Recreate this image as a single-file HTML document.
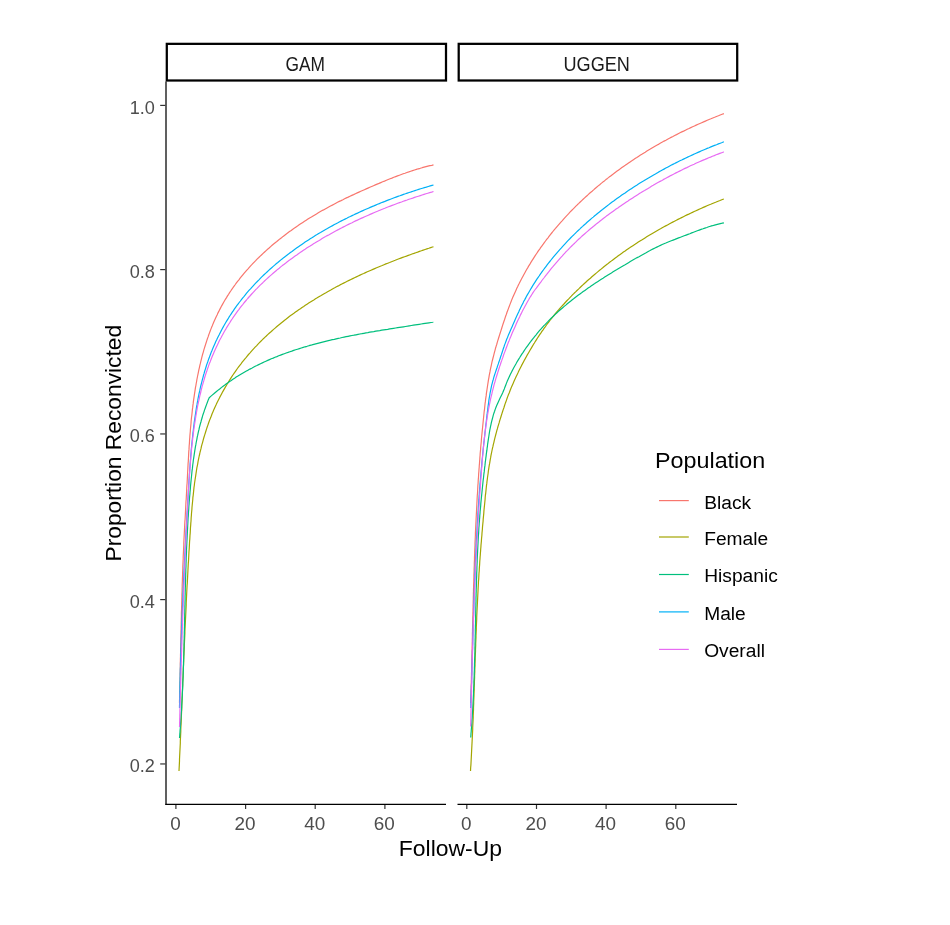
<!DOCTYPE html>
<html lang="en"><head><meta charset="utf-8"><title>Proportion Reconvicted by Follow-Up</title>
<style>html,body{margin:0;padding:0;background:#fff}svg{display:block}text{font-family:"Liberation Sans",sans-serif}.t{font-size:19.1px;fill:#4d4d4d}.s{font-size:19.5px;fill:#1a1a1a}.l{font-size:19px;fill:#000}.h{font-size:22.5px;fill:#000}</style></head><body>
<svg width="950" height="925" viewBox="0 0 950 925">
<rect width="950" height="925" fill="#fff"/>
<polyline fill="none" stroke="#F8766D" stroke-width="1.2" stroke-linejoin="round" points="179.5,703.0 179.5,701.0 179.6,699.0 179.6,696.9 179.7,694.9 179.7,692.9 179.8,690.9 179.8,688.9 179.9,686.9 179.9,684.9 179.9,682.8 180.0,680.8 180.0,678.8 180.1,676.8 180.1,674.8 180.1,672.8 180.2,670.8 180.2,668.8 180.3,666.8 180.3,664.8 180.3,662.7 180.4,660.7 180.4,658.7 180.5,656.7 180.5,654.7 180.6,652.7 180.6,650.7 180.6,648.7 180.7,646.7 180.7,644.7 180.8,642.7 180.8,640.7 180.8,638.7 180.9,636.7 180.9,634.7 181.0,632.7 181.0,630.7 181.1,628.7 181.1,626.7 181.2,624.7 181.2,622.7 181.3,620.7 181.3,618.7 181.4,616.7 181.4,614.7 181.4,612.7 181.5,610.7 181.6,608.7 181.6,606.7 181.7,604.7 181.7,602.8 181.8,600.8 181.8,598.8 181.9,596.8 181.9,594.8 182.0,592.8 182.1,590.8 182.1,588.8 182.2,586.8 182.2,584.8 182.3,582.8 182.4,580.8 182.4,578.8 182.5,576.9 182.6,574.9 182.6,572.9 182.7,570.9 182.8,568.9 182.8,566.9 182.9,564.9 183.0,562.9 183.1,560.9 183.2,558.9 183.2,556.9 183.3,555.0 183.4,553.0 183.5,551.0 183.6,549.0 183.7,547.0 183.8,545.0 183.8,543.0 183.9,541.0 184.0,539.0 184.1,537.1 184.2,535.1 184.3,533.1 184.4,531.1 184.5,529.1 184.6,527.1 184.7,525.1 184.8,523.1 184.9,521.1 185.1,519.2 185.2,517.2 185.3,515.2 185.4,513.2 185.5,511.2 185.6,509.2 185.7,507.2 185.8,505.2 185.9,503.2 186.0,501.3 186.2,499.3 186.3,497.3 186.4,495.3 186.5,493.3 186.6,491.3 186.7,489.3 186.8,487.3 186.9,485.3 187.1,483.3 187.2,481.3 187.3,479.4 187.4,477.4 187.5,475.4 187.6,473.4 187.7,471.4 187.8,469.4 187.9,467.4 188.0,465.4 188.1,463.4 188.3,461.4 188.4,459.4 188.5,457.4 188.6,455.4 188.7,453.4 188.8,451.4 189.0,449.4 189.1,447.5 189.2,445.5 189.4,443.5 189.5,441.5 189.6,439.5 189.8,437.5 189.9,435.5 190.1,433.5 190.3,431.5 190.4,429.5 190.6,427.5 190.8,425.5 191.0,423.5 191.1,421.5 191.3,419.5 191.5,417.5 191.8,415.5 192.0,413.5 192.2,411.5 192.4,409.4 192.7,407.4 192.9,405.4 193.2,403.4 193.4,401.4 193.7,399.4 194.0,397.4 194.3,395.4 194.6,393.4 194.9,391.4 195.2,389.4 195.5,387.4 195.9,385.5 196.2,383.5 196.6,381.5 196.9,379.5 197.3,377.5 197.7,375.5 198.1,373.6 198.5,371.6 198.9,369.6 199.4,367.6 199.8,365.7 200.3,363.7 200.7,361.8 201.2,359.8 201.7,357.9 202.2,355.9 202.7,354.0 203.3,352.1 203.8,350.2 204.4,348.2 205.0,346.3 205.6,344.4 206.2,342.5 206.8,340.6 207.4,338.7 208.1,336.9 208.7,335.0 209.4,333.1 210.1,331.3 210.8,329.4 211.5,327.6 212.3,325.7 213.0,323.9 213.8,322.1 214.6,320.3 215.4,318.5 216.2,316.7 217.1,314.9 217.9,313.1 218.8,311.4 219.7,309.6 220.6,307.9 221.5,306.1 222.5,304.4 223.4,302.7 224.4,301.0 225.4,299.3 226.5,297.6 227.5,295.9 228.6,294.3 229.6,292.6 230.7,291.0 231.8,289.3 233.0,287.7 234.1,286.1 235.3,284.5 236.4,282.9 237.6,281.3 238.9,279.8 240.1,278.2 241.3,276.7 242.6,275.1 243.8,273.6 245.1,272.1 246.4,270.6 247.8,269.1 249.1,267.6 250.4,266.1 251.8,264.7 253.2,263.2 254.5,261.8 255.9,260.4 257.3,258.9 258.8,257.5 260.2,256.1 261.7,254.7 263.1,253.4 264.6,252.0 266.1,250.6 267.6,249.3 269.1,248.0 270.6,246.6 272.1,245.3 273.6,244.0 275.2,242.7 276.8,241.5 278.3,240.2 279.9,238.9 281.5,237.7 283.1,236.4 284.7,235.2 286.3,234.0 287.9,232.8 289.5,231.6 291.2,230.4 292.8,229.2 294.5,228.1 296.1,226.9 297.8,225.8 299.5,224.6 301.1,223.5 302.8,222.4 304.5,221.3 306.2,220.2 307.9,219.1 309.6,218.0 311.4,217.0 313.1,215.9 314.8,214.9 316.5,213.9 318.3,212.8 320.0,211.8 321.7,210.8 323.5,209.9 325.2,208.9 327.0,207.9 328.7,207.0 330.5,206.0 332.3,205.1 334.0,204.2 335.8,203.2 337.5,202.3 339.3,201.4 341.1,200.6 342.9,199.7 344.6,198.8 346.4,197.9 348.2,197.1 350.0,196.2 351.8,195.4 353.6,194.6 355.4,193.7 357.2,192.9 359.0,192.1 360.8,191.3 362.6,190.5 364.4,189.7 366.2,188.9 368.0,188.1 369.8,187.3 371.7,186.5 373.5,185.7 375.3,184.9 377.2,184.1 379.0,183.4 380.8,182.6 382.7,181.8 384.5,181.1 386.4,180.3 388.2,179.5 390.1,178.8 391.9,178.1 393.8,177.3 395.7,176.6 397.5,175.9 399.4,175.2 401.3,174.5 403.2,173.8 405.0,173.2 406.9,172.5 408.8,171.9 410.7,171.2 412.6,170.6 414.5,170.0 416.4,169.4 418.3,168.8 420.2,168.3 422.2,167.7 424.1,167.2 426.0,166.7 427.9,166.2 429.9,165.7 431.8,165.3 433.5,164.9"/>
<polyline fill="none" stroke="#A3A500" stroke-width="1.2" stroke-linejoin="round" points="179.0,771.0 179.1,769.0 179.2,767.1 179.3,765.1 179.4,763.1 179.5,761.1 179.5,759.2 179.6,757.2 179.7,755.2 179.8,753.2 179.9,751.3 180.0,749.3 180.1,747.3 180.2,745.3 180.3,743.3 180.3,741.3 180.4,739.4 180.5,737.4 180.6,735.4 180.7,733.4 180.8,731.4 180.8,729.4 180.9,727.4 181.0,725.4 181.1,723.5 181.2,721.5 181.3,719.5 181.3,717.5 181.4,715.5 181.5,713.5 181.6,711.5 181.7,709.5 181.8,707.5 181.8,705.5 181.9,703.5 182.0,701.5 182.1,699.5 182.2,697.5 182.3,695.5 182.3,693.5 182.4,691.5 182.5,689.5 182.6,687.5 182.7,685.5 182.7,683.5 182.8,681.5 182.9,679.5 183.0,677.5 183.1,675.5 183.2,673.5 183.2,671.5 183.3,669.5 183.4,667.5 183.5,665.5 183.6,663.5 183.7,661.5 183.7,659.4 183.8,657.4 183.9,655.4 184.0,653.4 184.1,651.4 184.2,649.4 184.3,647.4 184.3,645.4 184.4,643.4 184.5,641.4 184.6,639.4 184.7,637.4 184.8,635.4 184.9,633.3 184.9,631.3 185.0,629.3 185.1,627.3 185.2,625.3 185.3,623.3 185.4,621.3 185.5,619.3 185.6,617.3 185.7,615.3 185.8,613.3 185.9,611.2 186.0,609.2 186.1,607.2 186.2,605.2 186.2,603.2 186.3,601.2 186.4,599.2 186.5,597.2 186.6,595.2 186.7,593.2 186.8,591.2 186.9,589.2 187.0,587.2 187.1,585.1 187.3,583.1 187.4,581.1 187.5,579.1 187.6,577.1 187.7,575.1 187.8,573.1 187.9,571.1 188.0,569.1 188.1,567.1 188.2,565.1 188.3,563.1 188.5,561.1 188.6,559.1 188.7,557.1 188.8,555.1 188.9,553.1 189.0,551.1 189.2,549.1 189.3,547.1 189.4,545.1 189.5,543.1 189.6,541.1 189.8,539.1 189.9,537.1 190.0,535.1 190.2,533.1 190.3,531.1 190.4,529.1 190.5,527.1 190.7,525.1 190.8,523.1 191.0,521.2 191.1,519.2 191.2,517.2 191.4,515.2 191.5,513.2 191.7,511.2 191.9,509.2 192.0,507.2 192.2,505.3 192.4,503.3 192.6,501.3 192.8,499.3 192.9,497.3 193.2,495.3 193.4,493.4 193.6,491.4 193.8,489.4 194.0,487.4 194.3,485.5 194.5,483.5 194.8,481.5 195.1,479.5 195.4,477.6 195.7,475.6 196.0,473.6 196.3,471.7 196.6,469.7 196.9,467.7 197.3,465.8 197.7,463.8 198.0,461.8 198.4,459.9 198.8,457.9 199.2,456.0 199.7,454.0 200.1,452.0 200.6,450.1 201.1,448.2 201.5,446.2 202.0,444.3 202.6,442.3 203.1,440.4 203.6,438.5 204.2,436.5 204.8,434.6 205.4,432.7 206.0,430.8 206.6,428.9 207.2,427.0 207.9,425.1 208.5,423.2 209.2,421.3 209.9,419.4 210.7,417.6 211.4,415.7 212.1,413.8 212.9,412.0 213.7,410.1 214.5,408.3 215.3,406.5 216.2,404.6 217.0,402.8 217.9,401.0 218.8,399.2 219.7,397.4 220.6,395.7 221.6,393.9 222.5,392.1 223.5,390.4 224.5,388.6 225.5,386.9 226.5,385.2 227.5,383.5 228.6,381.7 229.6,380.1 230.7,378.4 231.8,376.7 232.9,375.0 234.0,373.4 235.1,371.8 236.3,370.1 237.4,368.5 238.6,366.9 239.8,365.3 241.0,363.8 242.2,362.2 243.5,360.6 244.7,359.1 246.0,357.6 247.2,356.1 248.5,354.5 249.8,353.1 251.1,351.6 252.4,350.1 253.8,348.6 255.1,347.2 256.5,345.8 257.8,344.3 259.2,342.9 260.6,341.5 262.0,340.1 263.4,338.7 264.8,337.4 266.3,336.0 267.7,334.6 269.2,333.3 270.7,332.0 272.1,330.7 273.6,329.4 275.1,328.1 276.6,326.8 278.1,325.5 279.7,324.2 281.2,323.0 282.8,321.7 284.3,320.5 285.9,319.3 287.5,318.0 289.0,316.8 290.6,315.6 292.2,314.5 293.9,313.3 295.5,312.1 297.1,310.9 298.7,309.8 300.4,308.7 302.0,307.5 303.7,306.4 305.3,305.3 307.0,304.2 308.7,303.1 310.4,302.0 312.1,300.9 313.8,299.9 315.5,298.8 317.2,297.8 318.9,296.7 320.7,295.7 322.4,294.7 324.1,293.7 325.9,292.7 327.6,291.7 329.4,290.7 331.2,289.7 332.9,288.7 334.7,287.8 336.5,286.8 338.3,285.9 340.0,284.9 341.8,284.0 343.6,283.1 345.4,282.2 347.2,281.3 349.1,280.4 350.9,279.5 352.7,278.6 354.5,277.7 356.3,276.9 358.2,276.0 360.0,275.1 361.8,274.3 363.7,273.5 365.5,272.6 367.3,271.8 369.2,271.0 371.0,270.2 372.9,269.4 374.7,268.6 376.6,267.8 378.5,267.0 380.3,266.2 382.2,265.5 384.0,264.7 385.9,263.9 387.8,263.2 389.6,262.5 391.5,261.7 393.4,261.0 395.2,260.3 397.1,259.5 399.0,258.8 400.8,258.1 402.7,257.4 404.6,256.7 406.4,256.1 408.3,255.4 410.2,254.7 412.0,254.0 413.9,253.4 415.8,252.7 417.6,252.1 419.5,251.4 421.4,250.8 423.2,250.1 425.1,249.5 426.9,248.9 428.8,248.3 430.7,247.6 432.5,247.0 433.5,246.7"/>
<polyline fill="none" stroke="#00BF7D" stroke-width="1.2" stroke-linejoin="round" points="179.5,738.0 179.7,736.0 179.8,734.1 180.0,732.1 180.1,730.1 180.3,728.2 180.4,726.2 180.6,724.2 180.7,722.3 180.8,720.3 181.0,718.3 181.1,716.3 181.2,714.4 181.3,712.4 181.5,710.4 181.6,708.4 181.7,706.4 181.8,704.4 181.9,702.5 182.0,700.5 182.1,698.5 182.2,696.5 182.3,694.5 182.4,692.5 182.5,690.5 182.6,688.5 182.7,686.5 182.8,684.5 182.8,682.6 182.9,680.6 183.0,678.6 183.1,676.6 183.1,674.6 183.2,672.6 183.3,670.6 183.3,668.6 183.4,666.6 183.5,664.6 183.5,662.6 183.6,660.6 183.7,658.5 183.7,656.5 183.8,654.5 183.8,652.5 183.9,650.5 183.9,648.5 184.0,646.5 184.0,644.5 184.1,642.5 184.1,640.5 184.2,638.5 184.2,636.5 184.3,634.5 184.3,632.4 184.4,630.4 184.4,628.4 184.5,626.4 184.5,624.4 184.6,622.4 184.6,620.4 184.6,618.4 184.7,616.3 184.7,614.3 184.8,612.3 184.8,610.3 184.9,608.3 184.9,606.3 185.0,604.3 185.0,602.3 185.1,600.2 185.1,598.2 185.1,596.2 185.2,594.2 185.2,592.2 185.3,590.2 185.3,588.2 185.4,586.1 185.4,584.1 185.5,582.1 185.6,580.1 185.6,578.1 185.7,576.1 185.7,574.1 185.8,572.1 185.8,570.0 185.9,568.0 186.0,566.0 186.0,564.0 186.1,562.0 186.2,560.0 186.2,558.0 186.3,556.0 186.4,554.0 186.5,552.0 186.5,549.9 186.6,547.9 186.7,545.9 186.8,543.9 186.9,541.9 187.0,539.9 187.1,537.9 187.2,535.9 187.3,533.9 187.4,531.9 187.5,529.9 187.6,527.9 187.7,525.9 187.8,523.9 187.9,521.9 188.0,519.9 188.1,517.9 188.3,515.9 188.4,513.9 188.5,511.9 188.7,510.0 188.8,508.0 188.9,506.0 189.1,504.0 189.2,502.0 189.4,500.0 189.5,498.0 189.7,496.0 189.9,494.1 190.0,492.1 190.2,490.1 190.4,488.1 190.5,486.1 190.7,484.2 190.9,482.2 191.1,480.2 191.3,478.2 191.5,476.3 191.7,474.3 191.9,472.3 192.1,470.3 192.4,468.4 192.6,466.4 192.8,464.5 193.1,462.5 193.3,460.5 193.6,458.6 193.9,456.6 194.2,454.7 194.5,452.7 194.8,450.7 195.1,448.8 195.4,446.8 195.8,444.9 196.1,443.0 196.5,441.0 196.9,439.1 197.2,437.1 197.7,435.2 198.1,433.2 198.5,431.3 199.0,429.4 199.4,427.4 199.9,425.5 200.4,423.6 201.0,421.7 201.5,419.7 202.1,417.8 202.6,415.9 203.2,414.0 203.9,412.1 204.5,410.1 205.2,408.2 205.9,406.3 206.6,404.4 207.3,402.5 208.0,400.6 208.8,398.7 209.2,397.8 210.7,396.4 212.2,395.1 213.8,393.8 215.3,392.5 216.8,391.2 218.4,389.9 220.0,388.7 221.6,387.4 223.1,386.2 224.8,385.0 226.4,383.8 228.0,382.7 229.6,381.5 231.3,380.4 232.9,379.3 234.6,378.2 236.2,377.1 237.9,376.1 239.6,375.0 241.3,374.0 243.0,373.0 244.7,372.0 246.4,371.0 248.2,370.1 249.9,369.1 251.7,368.2 253.4,367.3 255.2,366.3 256.9,365.5 258.7,364.6 260.5,363.7 262.3,362.9 264.1,362.0 265.9,361.2 267.7,360.4 269.5,359.6 271.3,358.8 273.2,358.1 275.0,357.3 276.9,356.6 278.7,355.8 280.6,355.1 282.4,354.4 284.3,353.7 286.2,353.0 288.0,352.4 289.9,351.7 291.8,351.1 293.7,350.4 295.6,349.8 297.5,349.2 299.4,348.6 301.3,348.0 303.2,347.4 305.1,346.8 307.0,346.3 309.0,345.7 310.9,345.2 312.8,344.6 314.8,344.1 316.7,343.6 318.7,343.1 320.6,342.6 322.5,342.1 324.5,341.6 326.4,341.1 328.4,340.6 330.4,340.2 332.3,339.7 334.3,339.3 336.2,338.8 338.2,338.4 340.2,338.0 342.1,337.5 344.1,337.1 346.1,336.7 348.1,336.3 350.0,335.9 352.0,335.5 354.0,335.2 356.0,334.8 358.0,334.4 359.9,334.0 361.9,333.7 363.9,333.3 365.9,332.9 367.9,332.6 369.8,332.2 371.8,331.9 373.8,331.6 375.8,331.2 377.8,330.9 379.8,330.6 381.7,330.2 383.7,329.9 385.7,329.6 387.7,329.3 389.7,328.9 391.7,328.6 393.6,328.3 395.6,328.0 397.6,327.7 399.6,327.4 401.5,327.1 403.5,326.8 405.5,326.5 407.5,326.2 409.4,325.8 411.4,325.5 413.4,325.2 415.3,324.9 417.3,324.6 419.3,324.3 421.2,324.0 423.2,323.7 425.1,323.4 427.1,323.1 429.0,322.8 431.0,322.5 432.9,322.2 433.3,322.1"/>
<polyline fill="none" stroke="#00B0F6" stroke-width="1.2" stroke-linejoin="round" points="179.5,708.0 179.5,706.0 179.6,704.0 179.6,702.0 179.6,700.0 179.7,698.0 179.7,696.0 179.8,694.0 179.8,692.0 179.9,690.0 179.9,688.0 179.9,686.0 180.0,684.0 180.0,682.0 180.1,680.0 180.1,678.0 180.2,676.0 180.2,674.0 180.3,672.0 180.3,670.0 180.4,668.0 180.5,666.0 180.5,664.0 180.6,662.0 180.6,660.0 180.7,658.0 180.7,656.0 180.8,654.0 180.9,652.0 180.9,650.0 181.0,648.0 181.1,646.0 181.1,644.0 181.2,642.0 181.3,640.0 181.3,638.0 181.4,636.0 181.5,634.0 181.5,632.0 181.6,630.0 181.7,628.0 181.7,626.0 181.8,624.0 181.9,622.0 182.0,620.0 182.0,618.0 182.1,616.0 182.2,614.0 182.3,612.0 182.4,610.0 182.4,608.0 182.5,606.0 182.6,604.0 182.7,602.0 182.8,600.0 182.9,598.0 182.9,596.0 183.0,594.0 183.1,592.0 183.2,590.0 183.3,588.0 183.4,586.0 183.5,584.0 183.6,582.0 183.6,580.0 183.7,578.0 183.8,576.0 183.9,574.0 184.0,572.0 184.1,570.0 184.2,568.0 184.3,566.1 184.4,564.1 184.5,562.1 184.6,560.1 184.7,558.1 184.8,556.1 184.9,554.1 185.0,552.1 185.1,550.1 185.2,548.1 185.3,546.1 185.4,544.1 185.5,542.1 185.6,540.1 185.7,538.1 185.8,536.1 185.9,534.1 186.0,532.1 186.1,530.1 186.3,528.1 186.4,526.1 186.5,524.1 186.6,522.1 186.7,520.1 186.8,518.2 186.9,516.2 187.0,514.2 187.1,512.2 187.3,510.2 187.4,508.2 187.5,506.2 187.6,504.2 187.7,502.2 187.8,500.2 188.0,498.2 188.1,496.2 188.2,494.2 188.3,492.2 188.4,490.2 188.6,488.2 188.7,486.3 188.8,484.3 188.9,482.3 189.0,480.3 189.2,478.3 189.3,476.3 189.4,474.3 189.6,472.3 189.7,470.3 189.8,468.3 190.0,466.3 190.1,464.3 190.3,462.3 190.4,460.4 190.6,458.4 190.7,456.4 190.9,454.4 191.1,452.4 191.2,450.4 191.4,448.4 191.6,446.4 191.8,444.4 192.0,442.4 192.2,440.4 192.4,438.5 192.6,436.5 192.8,434.5 193.0,432.5 193.3,430.5 193.5,428.5 193.7,426.5 194.0,424.5 194.2,422.5 194.5,420.6 194.8,418.6 195.1,416.6 195.4,414.6 195.7,412.6 196.0,410.6 196.3,408.6 196.6,406.7 197.0,404.7 197.3,402.7 197.7,400.7 198.0,398.8 198.4,396.8 198.8,394.8 199.2,392.9 199.7,390.9 200.1,388.9 200.5,387.0 201.0,385.0 201.5,383.1 202.0,381.1 202.5,379.2 203.0,377.3 203.5,375.3 204.1,373.4 204.6,371.5 205.2,369.6 205.8,367.7 206.4,365.8 207.0,363.9 207.7,362.0 208.3,360.1 209.0,358.2 209.7,356.4 210.4,354.5 211.1,352.6 211.9,350.8 212.6,348.9 213.4,347.1 214.2,345.3 215.0,343.4 215.8,341.6 216.7,339.8 217.5,338.0 218.4,336.2 219.3,334.5 220.2,332.7 221.1,330.9 222.0,329.2 223.0,327.4 223.9,325.7 224.9,324.0 225.9,322.3 226.9,320.6 228.0,318.9 229.0,317.2 230.1,315.5 231.2,313.8 232.3,312.2 233.4,310.6 234.5,308.9 235.6,307.3 236.8,305.7 238.0,304.1 239.2,302.5 240.4,301.0 241.6,299.4 242.8,297.8 244.1,296.3 245.3,294.8 246.6,293.2 247.9,291.7 249.2,290.2 250.5,288.8 251.8,287.3 253.2,285.8 254.5,284.4 255.9,282.9 257.3,281.5 258.7,280.1 260.1,278.6 261.5,277.2 262.9,275.8 264.3,274.5 265.8,273.1 267.3,271.7 268.7,270.4 270.2,269.0 271.7,267.7 273.2,266.4 274.7,265.1 276.2,263.8 277.8,262.5 279.3,261.2 280.9,259.9 282.4,258.7 284.0,257.4 285.6,256.2 287.2,255.0 288.8,253.8 290.4,252.5 292.0,251.4 293.6,250.2 295.2,249.0 296.9,247.8 298.5,246.7 300.2,245.5 301.8,244.4 303.5,243.3 305.1,242.1 306.8,241.0 308.5,239.9 310.2,238.8 311.9,237.8 313.6,236.7 315.3,235.6 317.0,234.6 318.7,233.5 320.5,232.5 322.2,231.5 323.9,230.5 325.6,229.5 327.4,228.5 329.1,227.5 330.9,226.5 332.6,225.6 334.4,224.6 336.1,223.7 337.9,222.8 339.7,221.8 341.4,220.9 343.2,220.0 345.0,219.1 346.8,218.2 348.5,217.3 350.3,216.5 352.1,215.6 353.9,214.8 355.7,213.9 357.5,213.1 359.3,212.2 361.1,211.4 362.9,210.6 364.7,209.8 366.5,209.0 368.4,208.2 370.2,207.4 372.0,206.6 373.8,205.9 375.7,205.1 377.5,204.3 379.3,203.6 381.2,202.8 383.0,202.1 384.9,201.4 386.7,200.6 388.6,199.9 390.4,199.2 392.3,198.5 394.2,197.8 396.0,197.1 397.9,196.4 399.8,195.8 401.7,195.1 403.5,194.4 405.4,193.8 407.3,193.1 409.2,192.5 411.1,191.9 413.0,191.2 414.9,190.6 416.8,190.0 418.7,189.4 420.6,188.8 422.5,188.2 424.4,187.6 426.3,187.1 428.3,186.5 430.2,185.9 432.1,185.4 433.5,185.0"/>
<polyline fill="none" stroke="#E76BF3" stroke-width="1.2" stroke-linejoin="round" points="179.5,727.0 179.6,725.0 179.6,723.0 179.7,721.0 179.7,719.0 179.8,717.0 179.8,715.0 179.9,713.0 179.9,711.1 180.0,709.1 180.0,707.1 180.1,705.1 180.1,703.1 180.2,701.1 180.2,699.1 180.3,697.1 180.3,695.1 180.4,693.1 180.5,691.1 180.5,689.1 180.6,687.1 180.6,685.1 180.7,683.1 180.7,681.1 180.8,679.1 180.8,677.1 180.9,675.1 181.0,673.1 181.0,671.1 181.1,669.1 181.1,667.1 181.2,665.1 181.2,663.1 181.3,661.1 181.4,659.1 181.4,657.1 181.5,655.1 181.5,653.1 181.6,651.1 181.7,649.1 181.7,647.1 181.8,645.1 181.9,643.1 181.9,641.1 182.0,639.1 182.1,637.1 182.1,635.1 182.2,633.1 182.2,631.1 182.3,629.1 182.4,627.1 182.5,625.1 182.5,623.1 182.6,621.1 182.7,619.1 182.7,617.1 182.8,615.1 182.9,613.1 182.9,611.1 183.0,609.1 183.1,607.1 183.2,605.1 183.2,603.1 183.3,601.1 183.4,599.1 183.4,597.1 183.5,595.1 183.6,593.1 183.7,591.1 183.8,589.1 183.8,587.1 183.9,585.1 184.0,583.1 184.1,581.1 184.2,579.1 184.2,577.1 184.3,575.1 184.4,573.1 184.5,571.1 184.6,569.1 184.7,567.1 184.7,565.1 184.8,563.1 184.9,561.1 185.0,559.1 185.1,557.1 185.2,555.1 185.3,553.1 185.4,551.1 185.4,549.1 185.5,547.1 185.6,545.1 185.7,543.1 185.8,541.1 185.9,539.1 186.0,537.1 186.1,535.1 186.2,533.1 186.3,531.1 186.4,529.1 186.5,527.1 186.6,525.1 186.7,523.1 186.8,521.1 186.9,519.1 187.0,517.1 187.1,515.1 187.2,513.1 187.3,511.1 187.5,509.1 187.6,507.1 187.7,505.2 187.8,503.2 187.9,501.2 188.0,499.2 188.1,497.2 188.2,495.2 188.4,493.2 188.5,491.2 188.6,489.2 188.7,487.2 188.8,485.2 189.0,483.2 189.1,481.2 189.2,479.2 189.3,477.2 189.5,475.2 189.6,473.2 189.7,471.3 189.9,469.3 190.0,467.3 190.2,465.3 190.3,463.3 190.5,461.3 190.7,459.3 190.8,457.3 191.0,455.3 191.2,453.3 191.4,451.4 191.5,449.4 191.7,447.4 191.9,445.4 192.2,443.4 192.4,441.4 192.6,439.4 192.8,437.4 193.1,435.5 193.3,433.5 193.6,431.5 193.8,429.5 194.1,427.5 194.4,425.5 194.7,423.5 195.0,421.6 195.3,419.6 195.6,417.6 195.9,415.6 196.3,413.6 196.6,411.7 197.0,409.7 197.3,407.7 197.7,405.7 198.1,403.8 198.5,401.8 199.0,399.8 199.4,397.9 199.8,395.9 200.3,394.0 200.8,392.0 201.2,390.1 201.7,388.1 202.2,386.2 202.8,384.2 203.3,382.3 203.9,380.4 204.4,378.5 205.0,376.5 205.6,374.6 206.2,372.7 206.9,370.8 207.5,368.9 208.2,367.0 208.8,365.1 209.5,363.3 210.3,361.4 211.0,359.5 211.7,357.7 212.5,355.8 213.3,354.0 214.1,352.1 214.9,350.3 215.7,348.5 216.5,346.7 217.4,344.9 218.3,343.1 219.1,341.3 220.0,339.5 221.0,337.8 221.9,336.0 222.9,334.2 223.8,332.5 224.8,330.8 225.8,329.1 226.8,327.3 227.9,325.6 228.9,324.0 230.0,322.3 231.0,320.6 232.1,319.0 233.2,317.3 234.4,315.7 235.5,314.1 236.7,312.4 237.8,310.8 239.0,309.3 240.2,307.7 241.4,306.1 242.7,304.6 243.9,303.0 245.2,301.5 246.5,300.0 247.7,298.5 249.0,297.0 250.4,295.5 251.7,294.0 253.0,292.6 254.4,291.1 255.7,289.7 257.1,288.3 258.5,286.8 259.9,285.4 261.3,284.1 262.8,282.7 264.2,281.3 265.7,279.9 267.1,278.6 268.6,277.2 270.1,275.9 271.6,274.6 273.1,273.3 274.6,272.0 276.1,270.7 277.6,269.4 279.2,268.2 280.7,266.9 282.3,265.6 283.9,264.4 285.5,263.2 287.0,262.0 288.6,260.8 290.3,259.6 291.9,258.4 293.5,257.2 295.1,256.0 296.8,254.9 298.4,253.7 300.1,252.6 301.7,251.5 303.4,250.3 305.1,249.2 306.7,248.1 308.4,247.0 310.1,246.0 311.8,244.9 313.5,243.8 315.2,242.8 316.9,241.7 318.7,240.7 320.4,239.7 322.1,238.6 323.8,237.6 325.6,236.6 327.3,235.6 329.1,234.7 330.8,233.7 332.6,232.7 334.3,231.8 336.1,230.8 337.8,229.9 339.6,228.9 341.4,228.0 343.1,227.1 344.9,226.2 346.7,225.3 348.5,224.4 350.3,223.5 352.1,222.7 353.8,221.8 355.6,220.9 357.4,220.1 359.2,219.2 361.0,218.4 362.9,217.6 364.7,216.8 366.5,216.0 368.3,215.2 370.1,214.4 371.9,213.6 373.8,212.8 375.6,212.0 377.4,211.3 379.2,210.5 381.1,209.7 382.9,209.0 384.8,208.3 386.6,207.5 388.5,206.8 390.3,206.1 392.2,205.4 394.0,204.7 395.9,204.0 397.7,203.3 399.6,202.6 401.5,202.0 403.3,201.3 405.2,200.6 407.1,200.0 408.9,199.3 410.8,198.7 412.7,198.1 414.6,197.4 416.5,196.8 418.4,196.2 420.3,195.6 422.1,195.0 424.0,194.4 425.9,193.8 427.8,193.2 429.7,192.6 431.6,192.1 433.5,191.5"/>
<polyline fill="none" stroke="#F8766D" stroke-width="1.2" stroke-linejoin="round" points="470.7,703.0 470.8,701.0 470.8,699.0 470.9,697.0 470.9,695.1 471.0,693.1 471.0,691.1 471.1,689.1 471.1,687.1 471.2,685.1 471.3,683.1 471.3,681.2 471.4,679.2 471.4,677.2 471.5,675.2 471.5,673.2 471.6,671.2 471.6,669.2 471.6,667.2 471.7,665.2 471.7,663.3 471.8,661.3 471.8,659.3 471.9,657.3 471.9,655.3 472.0,653.3 472.0,651.3 472.1,649.3 472.1,647.3 472.2,645.3 472.2,643.3 472.3,641.3 472.3,639.3 472.4,637.3 472.4,635.3 472.4,633.3 472.5,631.3 472.5,629.3 472.6,627.3 472.6,625.3 472.7,623.3 472.7,621.3 472.8,619.3 472.8,617.3 472.9,615.3 472.9,613.3 473.0,611.3 473.0,609.3 473.1,607.3 473.1,605.3 473.2,603.3 473.2,601.3 473.3,599.3 473.3,597.3 473.4,595.3 473.4,593.3 473.5,591.3 473.5,589.3 473.6,587.3 473.6,585.3 473.7,583.3 473.8,581.3 473.8,579.3 473.9,577.3 473.9,575.3 474.0,573.3 474.1,571.3 474.1,569.3 474.2,567.3 474.3,565.3 474.3,563.3 474.4,561.3 474.5,559.3 474.5,557.3 474.6,555.3 474.7,553.3 474.7,551.3 474.8,549.3 474.9,547.3 475.0,545.3 475.0,543.3 475.1,541.3 475.2,539.3 475.3,537.2 475.4,535.2 475.4,533.2 475.5,531.2 475.6,529.2 475.7,527.2 475.8,525.2 475.9,523.2 476.0,521.2 476.1,519.2 476.2,517.2 476.3,515.2 476.4,513.2 476.5,511.2 476.6,509.2 476.7,507.2 476.8,505.2 476.9,503.2 477.0,501.2 477.1,499.2 477.2,497.2 477.3,495.2 477.5,493.2 477.6,491.2 477.7,489.2 477.8,487.2 477.9,485.2 478.1,483.2 478.2,481.2 478.3,479.2 478.5,477.2 478.6,475.2 478.7,473.2 478.9,471.2 479.0,469.2 479.2,467.2 479.3,465.2 479.5,463.2 479.6,461.2 479.8,459.2 479.9,457.2 480.1,455.2 480.2,453.2 480.4,451.2 480.6,449.2 480.7,447.2 480.9,445.2 481.1,443.2 481.3,441.2 481.4,439.2 481.6,437.2 481.8,435.2 482.0,433.2 482.2,431.2 482.4,429.2 482.6,427.2 482.8,425.2 483.0,423.3 483.2,421.3 483.4,419.3 483.6,417.3 483.8,415.3 484.0,413.3 484.2,411.3 484.5,409.3 484.7,407.3 484.9,405.3 485.1,403.3 485.4,401.4 485.6,399.4 485.9,397.4 486.2,395.4 486.4,393.4 486.7,391.4 487.0,389.5 487.3,387.5 487.6,385.5 487.9,383.5 488.2,381.6 488.5,379.6 488.9,377.6 489.2,375.7 489.6,373.7 490.0,371.7 490.3,369.8 490.7,367.8 491.2,365.8 491.6,363.9 492.0,361.9 492.5,360.0 493.0,358.0 493.5,356.1 494.0,354.2 494.5,352.2 495.0,350.3 495.5,348.3 496.1,346.4 496.7,344.5 497.2,342.6 497.8,340.6 498.4,338.7 499.0,336.8 499.6,334.9 500.2,333.0 500.8,331.1 501.4,329.2 502.0,327.3 502.6,325.4 503.2,323.5 503.8,321.7 504.5,319.8 505.1,317.9 505.7,316.0 506.4,314.2 507.0,312.3 507.7,310.5 508.4,308.6 509.1,306.8 509.8,304.9 510.5,303.1 511.2,301.3 511.9,299.4 512.7,297.6 513.5,295.8 514.3,294.0 515.1,292.2 515.9,290.4 516.7,288.6 517.6,286.8 518.4,285.0 519.3,283.3 520.2,281.5 521.1,279.7 522.0,278.0 523.0,276.2 523.9,274.5 524.9,272.7 525.8,271.0 526.8,269.3 527.8,267.6 528.8,265.8 529.9,264.1 530.9,262.4 532.0,260.7 533.0,259.1 534.1,257.4 535.2,255.7 536.3,254.0 537.4,252.4 538.5,250.7 539.7,249.1 540.8,247.4 542.0,245.8 543.2,244.2 544.3,242.6 545.5,241.0 546.7,239.4 548.0,237.8 549.2,236.2 550.4,234.6 551.7,233.0 552.9,231.5 554.2,229.9 555.5,228.4 556.8,226.8 558.1,225.3 559.4,223.8 560.7,222.3 562.1,220.8 563.4,219.3 564.7,217.8 566.1,216.3 567.5,214.9 568.9,213.4 570.2,211.9 571.6,210.5 573.0,209.1 574.5,207.6 575.9,206.2 577.3,204.8 578.8,203.4 580.2,202.0 581.7,200.6 583.1,199.3 584.6,197.9 586.1,196.5 587.6,195.2 589.0,193.8 590.5,192.5 592.1,191.2 593.6,189.9 595.1,188.5 596.6,187.2 598.2,185.9 599.7,184.7 601.2,183.4 602.8,182.1 604.4,180.9 605.9,179.6 607.5,178.4 609.1,177.1 610.7,175.9 612.3,174.7 613.9,173.5 615.5,172.3 617.1,171.1 618.7,169.9 620.3,168.8 621.9,167.6 623.5,166.4 625.2,165.3 626.8,164.2 628.5,163.0 630.1,161.9 631.8,160.8 633.4,159.7 635.1,158.6 636.8,157.5 638.4,156.4 640.1,155.3 641.8,154.3 643.5,153.2 645.2,152.2 646.9,151.1 648.6,150.1 650.3,149.1 652.0,148.0 653.7,147.0 655.4,146.0 657.2,145.0 658.9,144.1 660.6,143.1 662.4,142.1 664.1,141.1 665.9,140.2 667.6,139.2 669.4,138.3 671.1,137.4 672.9,136.5 674.7,135.5 676.5,134.6 678.2,133.7 680.0,132.8 681.8,131.9 683.6,131.1 685.4,130.2 687.2,129.3 689.0,128.5 690.8,127.6 692.6,126.8 694.4,126.0 696.2,125.1 698.1,124.3 699.9,123.5 701.7,122.7 703.6,121.9 705.4,121.1 707.2,120.3 709.1,119.5 710.9,118.8 712.8,118.0 714.6,117.3 716.5,116.5 718.4,115.8 720.2,115.0 722.1,114.3 723.9,113.6"/>
<polyline fill="none" stroke="#A3A500" stroke-width="1.2" stroke-linejoin="round" points="470.5,771.0 470.6,769.0 470.7,767.1 470.9,765.1 471.0,763.1 471.1,761.2 471.2,759.2 471.3,757.2 471.4,755.3 471.5,753.3 471.6,751.3 471.7,749.3 471.8,747.4 471.9,745.4 472.0,743.4 472.1,741.4 472.2,739.4 472.3,737.5 472.4,735.5 472.5,733.5 472.6,731.5 472.7,729.5 472.7,727.5 472.8,725.6 472.9,723.6 473.0,721.6 473.1,719.6 473.2,717.6 473.2,715.6 473.3,713.6 473.4,711.6 473.5,709.6 473.5,707.6 473.6,705.6 473.7,703.6 473.7,701.6 473.8,699.6 473.9,697.6 474.0,695.6 474.0,693.6 474.1,691.6 474.2,689.6 474.2,687.6 474.3,685.6 474.4,683.6 474.4,681.6 474.5,679.6 474.6,677.6 474.6,675.6 474.7,673.6 474.8,671.6 474.8,669.6 474.9,667.6 475.0,665.6 475.0,663.6 475.1,661.6 475.2,659.5 475.2,657.5 475.3,655.5 475.4,653.5 475.5,651.5 475.5,649.5 475.6,647.5 475.7,645.5 475.7,643.5 475.8,641.5 475.9,639.4 476.0,637.4 476.0,635.4 476.1,633.4 476.2,631.4 476.3,629.4 476.3,627.4 476.4,625.4 476.5,623.3 476.6,621.3 476.7,619.3 476.7,617.3 476.8,615.3 476.9,613.3 477.0,611.3 477.1,609.3 477.2,607.2 477.3,605.2 477.4,603.2 477.5,601.2 477.6,599.2 477.7,597.2 477.8,595.2 477.9,593.2 478.0,591.2 478.1,589.1 478.2,587.1 478.3,585.1 478.4,583.1 478.5,581.1 478.7,579.1 478.8,577.1 478.9,575.1 479.0,573.1 479.2,571.1 479.3,569.1 479.4,567.1 479.6,565.0 479.7,563.0 479.8,561.0 480.0,559.0 480.1,557.0 480.3,555.0 480.4,553.0 480.6,551.0 480.7,549.0 480.9,547.0 481.0,545.0 481.2,543.0 481.4,541.0 481.5,539.0 481.7,537.0 481.9,535.0 482.0,533.0 482.2,531.0 482.4,529.0 482.5,527.0 482.7,525.0 482.9,523.0 483.1,521.1 483.2,519.1 483.4,517.1 483.6,515.1 483.8,513.1 483.9,511.1 484.1,509.1 484.3,507.1 484.5,505.2 484.7,503.2 484.9,501.2 485.1,499.2 485.2,497.2 485.4,495.2 485.7,493.3 485.9,491.3 486.1,489.3 486.3,487.3 486.5,485.4 486.8,483.4 487.0,481.4 487.3,479.4 487.5,477.5 487.8,475.5 488.1,473.5 488.3,471.6 488.6,469.6 488.9,467.7 489.2,465.7 489.6,463.7 489.9,461.8 490.2,459.8 490.6,457.9 490.9,455.9 491.3,453.9 491.7,452.0 492.1,450.0 492.5,448.1 493.0,446.2 493.4,444.2 493.9,442.3 494.3,440.3 494.8,438.4 495.3,436.4 495.8,434.5 496.3,432.6 496.8,430.6 497.4,428.7 497.9,426.8 498.5,424.9 499.1,422.9 499.6,421.0 500.2,419.1 500.8,417.2 501.4,415.3 502.0,413.4 502.6,411.5 503.2,409.6 503.9,407.7 504.5,405.8 505.1,403.9 505.8,402.0 506.5,400.1 507.1,398.3 507.8,396.4 508.5,394.5 509.3,392.7 510.0,390.8 510.7,389.0 511.5,387.1 512.3,385.3 513.1,383.5 513.9,381.6 514.7,379.8 515.5,378.0 516.3,376.2 517.2,374.4 518.1,372.6 518.9,370.8 519.8,369.0 520.7,367.2 521.6,365.4 522.5,363.7 523.5,361.9 524.4,360.1 525.4,358.4 526.3,356.7 527.3,354.9 528.3,353.2 529.3,351.5 530.3,349.8 531.3,348.1 532.3,346.4 533.3,344.7 534.4,343.0 535.4,341.3 536.5,339.6 537.5,338.0 538.6,336.3 539.7,334.7 540.8,333.1 541.9,331.4 543.1,329.8 544.2,328.2 545.4,326.6 546.5,325.0 547.7,323.4 548.9,321.8 550.1,320.2 551.4,318.7 552.6,317.1 553.8,315.6 555.1,314.0 556.4,312.5 557.7,311.0 559.0,309.5 560.3,307.9 561.7,306.4 563.0,305.0 564.4,303.5 565.7,302.0 567.1,300.5 568.5,299.1 569.9,297.6 571.3,296.2 572.7,294.7 574.1,293.3 575.6,291.9 577.0,290.5 578.5,289.1 579.9,287.7 581.4,286.3 582.9,284.9 584.4,283.5 585.8,282.2 587.3,280.8 588.8,279.5 590.4,278.2 591.9,276.8 593.4,275.5 594.9,274.2 596.5,272.9 598.0,271.6 599.6,270.3 601.1,269.1 602.7,267.8 604.2,266.5 605.8,265.3 607.4,264.1 609.0,262.8 610.6,261.6 612.1,260.4 613.7,259.2 615.3,258.0 617.0,256.8 618.6,255.6 620.2,254.4 621.8,253.3 623.4,252.1 625.1,251.0 626.7,249.8 628.3,248.7 630.0,247.6 631.6,246.5 633.3,245.4 635.0,244.3 636.6,243.2 638.3,242.1 640.0,241.0 641.7,240.0 643.4,238.9 645.0,237.9 646.7,236.8 648.4,235.8 650.1,234.8 651.9,233.7 653.6,232.7 655.3,231.7 657.0,230.7 658.7,229.7 660.5,228.8 662.2,227.8 664.0,226.8 665.7,225.9 667.5,224.9 669.2,224.0 671.0,223.0 672.7,222.1 674.5,221.2 676.3,220.3 678.0,219.4 679.8,218.5 681.6,217.6 683.4,216.7 685.2,215.8 687.0,214.9 688.8,214.1 690.6,213.2 692.4,212.4 694.2,211.5 696.0,210.7 697.8,209.9 699.7,209.0 701.5,208.2 703.3,207.4 705.2,206.6 707.0,205.8 708.8,205.0 710.7,204.3 712.5,203.5 714.4,202.7 716.2,202.0 718.1,201.2 720.0,200.5 721.8,199.7 723.7,199.0 723.9,198.9"/>
<polyline fill="none" stroke="#00BF7D" stroke-width="1.2" stroke-linejoin="round" points="470.7,737.5 470.9,735.5 471.0,733.5 471.2,731.6 471.3,729.6 471.5,727.6 471.6,725.6 471.8,723.6 471.9,721.7 472.0,719.7 472.2,717.7 472.3,715.7 472.4,713.7 472.5,711.7 472.7,709.7 472.8,707.7 472.9,705.8 473.0,703.8 473.1,701.8 473.2,699.8 473.3,697.8 473.4,695.8 473.5,693.8 473.5,691.8 473.6,689.8 473.7,687.8 473.8,685.8 473.9,683.8 473.9,681.8 474.0,679.8 474.1,677.8 474.2,675.8 474.2,673.8 474.3,671.8 474.4,669.8 474.4,667.8 474.5,665.8 474.5,663.8 474.6,661.8 474.6,659.8 474.7,657.8 474.8,655.8 474.8,653.8 474.9,651.8 474.9,649.8 474.9,647.8 475.0,645.8 475.0,643.8 475.1,641.8 475.1,639.8 475.2,637.8 475.2,635.8 475.3,633.8 475.3,631.8 475.3,629.8 475.4,627.7 475.4,625.7 475.5,623.7 475.5,621.7 475.6,619.7 475.6,617.7 475.6,615.7 475.7,613.7 475.7,611.7 475.8,609.7 475.8,607.7 475.9,605.7 475.9,603.7 476.0,601.6 476.0,599.6 476.0,597.6 476.1,595.6 476.1,593.6 476.2,591.6 476.2,589.6 476.3,587.6 476.4,585.6 476.4,583.6 476.5,581.6 476.5,579.6 476.6,577.6 476.7,575.6 476.7,573.5 476.8,571.5 476.9,569.5 476.9,567.5 477.0,565.5 477.1,563.5 477.2,561.5 477.2,559.5 477.3,557.5 477.4,555.5 477.5,553.5 477.6,551.5 477.7,549.5 477.8,547.5 477.9,545.5 478.0,543.5 478.1,541.5 478.2,539.5 478.3,537.5 478.4,535.5 478.6,533.5 478.7,531.5 478.8,529.5 478.9,527.5 479.1,525.5 479.2,523.5 479.4,521.5 479.5,519.5 479.7,517.5 479.8,515.5 480.0,513.5 480.1,511.5 480.3,509.6 480.5,507.6 480.7,505.6 480.8,503.6 481.0,501.6 481.2,499.6 481.4,497.6 481.6,495.6 481.8,493.7 482.0,491.7 482.2,489.7 482.4,487.7 482.6,485.7 482.8,483.7 483.0,481.8 483.2,479.8 483.5,477.8 483.7,475.8 483.9,473.8 484.2,471.9 484.4,469.9 484.6,467.9 484.9,465.9 485.1,464.0 485.3,462.0 485.6,460.0 485.8,458.1 486.1,456.1 486.3,454.1 486.6,452.2 486.9,450.2 487.1,448.2 487.4,446.3 487.6,444.3 487.9,442.3 488.2,440.4 488.5,438.4 488.8,436.5 489.1,434.5 489.4,432.6 489.7,430.6 490.1,428.7 490.5,426.7 490.9,424.8 491.3,422.9 491.8,420.9 492.3,419.0 492.8,417.1 493.3,415.2 493.9,413.2 494.6,411.3 495.2,409.4 495.9,407.5 496.7,405.6 497.5,403.7 498.3,401.9 499.2,400.0 500.1,398.1 501.0,396.3 501.9,394.4 502.8,392.5 503.5,390.7 504.3,388.9 505.0,387.0 505.7,385.2 506.4,383.4 507.1,381.6 507.9,379.8 508.7,378.0 509.5,376.2 510.3,374.5 511.2,372.7 512.1,370.9 513.0,369.2 513.9,367.5 514.9,365.7 515.9,364.0 516.8,362.3 517.8,360.6 518.9,358.9 519.9,357.3 520.9,355.6 522.0,353.9 523.1,352.3 524.2,350.6 525.3,349.0 526.4,347.4 527.6,345.8 528.8,344.2 529.9,342.6 531.1,341.0 532.4,339.4 533.6,337.9 534.8,336.3 536.1,334.8 537.4,333.2 538.6,331.7 539.9,330.2 541.3,328.7 542.6,327.2 543.9,325.7 545.3,324.3 546.7,322.8 548.1,321.4 549.5,319.9 550.9,318.5 552.3,317.1 553.8,315.7 555.2,314.4 556.7,313.0 558.2,311.6 559.7,310.3 561.2,309.0 562.7,307.7 564.2,306.4 565.8,305.1 567.3,303.8 568.9,302.5 570.5,301.3 572.0,300.0 573.6,298.8 575.2,297.5 576.8,296.3 578.4,295.1 580.0,293.9 581.6,292.8 583.2,291.6 584.9,290.4 586.5,289.3 588.1,288.1 589.8,287.0 591.4,285.8 593.0,284.7 594.7,283.6 596.3,282.5 598.0,281.4 599.7,280.3 601.3,279.2 603.0,278.2 604.7,277.1 606.4,276.0 608.0,275.0 609.7,273.9 611.4,272.9 613.1,271.8 614.8,270.8 616.5,269.8 618.2,268.7 619.9,267.7 621.6,266.7 623.3,265.7 625.1,264.7 626.8,263.7 628.5,262.7 630.3,261.6 632.0,260.6 633.7,259.6 635.5,258.6 637.2,257.6 639.0,256.7 640.7,255.7 642.5,254.7 644.3,253.7 646.1,252.7 647.8,251.7 649.6,250.8 651.4,249.8 653.2,248.9 655.0,248.0 656.8,247.1 658.6,246.2 660.4,245.4 662.2,244.5 664.0,243.7 665.8,243.0 667.6,242.2 669.4,241.5 671.3,240.8 673.1,240.1 674.9,239.4 676.8,238.6 678.6,237.9 680.5,237.2 682.3,236.5 684.2,235.8 686.1,235.1 687.9,234.4 689.8,233.7 691.7,232.9 693.5,232.2 695.4,231.5 697.3,230.8 699.2,230.1 701.1,229.4 703.0,228.8 704.9,228.1 706.8,227.5 708.7,226.8 710.6,226.2 712.5,225.7 714.5,225.1 716.4,224.6 718.3,224.1 720.3,223.6 722.2,223.2 723.9,222.8"/>
<polyline fill="none" stroke="#00B0F6" stroke-width="1.2" stroke-linejoin="round" points="470.7,708.0 470.8,706.0 470.8,704.0 470.9,702.0 471.0,700.1 471.0,698.1 471.1,696.1 471.2,694.1 471.2,692.1 471.3,690.1 471.4,688.1 471.4,686.2 471.5,684.2 471.6,682.2 471.6,680.2 471.7,678.2 471.7,676.2 471.8,674.2 471.9,672.2 471.9,670.2 472.0,668.2 472.0,666.2 472.1,664.2 472.2,662.2 472.2,660.3 472.3,658.3 472.3,656.3 472.4,654.3 472.4,652.3 472.5,650.3 472.6,648.3 472.6,646.3 472.7,644.3 472.7,642.3 472.8,640.3 472.8,638.3 472.9,636.3 473.0,634.3 473.0,632.3 473.1,630.3 473.1,628.3 473.2,626.3 473.3,624.3 473.3,622.3 473.4,620.3 473.4,618.3 473.5,616.3 473.6,614.3 473.6,612.3 473.7,610.3 473.7,608.2 473.8,606.2 473.9,604.2 473.9,602.2 474.0,600.2 474.1,598.2 474.1,596.2 474.2,594.2 474.3,592.2 474.3,590.2 474.4,588.2 474.5,586.2 474.6,584.2 474.6,582.2 474.7,580.2 474.8,578.2 474.9,576.2 474.9,574.2 475.0,572.2 475.1,570.2 475.2,568.2 475.3,566.2 475.3,564.1 475.4,562.1 475.5,560.1 475.6,558.1 475.7,556.1 475.8,554.1 475.9,552.1 476.0,550.1 476.1,548.1 476.1,546.1 476.2,544.1 476.3,542.1 476.4,540.1 476.5,538.1 476.7,536.1 476.8,534.1 476.9,532.1 477.0,530.1 477.1,528.1 477.2,526.1 477.3,524.1 477.4,522.1 477.5,520.1 477.7,518.1 477.8,516.1 477.9,514.1 478.0,512.1 478.2,510.1 478.3,508.1 478.4,506.1 478.6,504.1 478.7,502.1 478.8,500.1 479.0,498.1 479.1,496.1 479.3,494.1 479.4,492.1 479.6,490.1 479.7,488.1 479.9,486.1 480.0,484.1 480.2,482.1 480.4,480.1 480.5,478.1 480.7,476.1 480.9,474.1 481.0,472.2 481.2,470.2 481.4,468.2 481.6,466.2 481.8,464.2 481.9,462.2 482.1,460.2 482.3,458.2 482.5,456.2 482.7,454.2 482.9,452.3 483.1,450.3 483.3,448.3 483.5,446.3 483.7,444.3 483.9,442.3 484.2,440.4 484.4,438.4 484.6,436.4 484.8,434.4 485.0,432.4 485.3,430.5 485.5,428.5 485.7,426.5 485.9,424.5 486.2,422.6 486.4,420.6 486.6,418.6 486.8,416.6 487.1,414.7 487.3,412.7 487.6,410.7 487.8,408.7 488.0,406.8 488.3,404.8 488.6,402.8 488.8,400.9 489.1,398.9 489.4,397.0 489.8,395.0 490.1,393.0 490.5,391.1 490.9,389.1 491.3,387.2 491.7,385.2 492.2,383.3 492.7,381.3 493.3,379.4 493.8,377.4 494.4,375.5 495.0,373.6 495.7,371.6 496.3,369.7 497.0,367.8 497.6,365.9 498.3,363.9 498.9,362.0 499.6,360.1 500.2,358.2 500.8,356.3 501.5,354.4 502.1,352.5 502.7,350.6 503.3,348.7 504.0,346.8 504.6,344.9 505.3,343.1 506.0,341.2 506.7,339.3 507.5,337.5 508.2,335.6 509.0,333.8 509.8,331.9 510.6,330.1 511.4,328.2 512.2,326.4 513.0,324.6 513.8,322.7 514.6,320.9 515.4,319.1 516.2,317.3 517.0,315.5 517.8,313.7 518.7,311.9 519.5,310.1 520.3,308.4 521.2,306.6 522.1,304.8 523.0,303.1 523.8,301.3 524.8,299.6 525.7,297.9 526.6,296.1 527.6,294.4 528.6,292.7 529.6,291.0 530.6,289.3 531.6,287.6 532.6,285.9 533.7,284.2 534.7,282.6 535.8,280.9 536.9,279.2 538.0,277.6 539.1,276.0 540.2,274.3 541.4,272.7 542.5,271.1 543.7,269.5 544.9,267.9 546.1,266.3 547.3,264.7 548.5,263.1 549.8,261.5 551.0,260.0 552.3,258.4 553.5,256.9 554.8,255.3 556.1,253.8 557.4,252.3 558.7,250.8 560.0,249.3 561.4,247.8 562.7,246.3 564.1,244.8 565.5,243.3 566.8,241.9 568.2,240.4 569.6,239.0 571.0,237.5 572.4,236.1 573.9,234.7 575.3,233.3 576.7,231.9 578.2,230.5 579.7,229.1 581.1,227.7 582.6,226.4 584.1,225.0 585.6,223.7 587.1,222.3 588.6,221.0 590.1,219.7 591.6,218.4 593.2,217.1 594.7,215.8 596.3,214.5 597.8,213.2 599.4,212.0 600.9,210.7 602.5,209.5 604.1,208.2 605.7,207.0 607.3,205.8 608.8,204.6 610.5,203.3 612.1,202.1 613.7,201.0 615.3,199.8 616.9,198.6 618.5,197.4 620.2,196.3 621.8,195.1 623.4,194.0 625.1,192.9 626.7,191.7 628.4,190.6 630.0,189.5 631.7,188.4 633.4,187.3 635.0,186.2 636.7,185.2 638.4,184.1 640.0,183.0 641.7,182.0 643.4,181.0 645.1,179.9 646.8,178.9 648.5,177.9 650.2,176.9 651.9,175.9 653.6,174.9 655.4,173.9 657.1,172.9 658.8,171.9 660.5,171.0 662.3,170.0 664.0,169.1 665.8,168.1 667.5,167.2 669.3,166.2 671.0,165.3 672.8,164.4 674.6,163.5 676.3,162.6 678.1,161.7 679.9,160.8 681.7,160.0 683.5,159.1 685.3,158.2 687.1,157.4 688.9,156.5 690.7,155.7 692.5,154.9 694.3,154.0 696.1,153.2 698.0,152.4 699.8,151.6 701.6,150.8 703.5,150.0 705.3,149.2 707.2,148.4 709.0,147.7 710.9,146.9 712.7,146.1 714.6,145.4 716.5,144.7 718.4,143.9 720.3,143.2 722.2,142.5 723.9,141.8"/>
<polyline fill="none" stroke="#E76BF3" stroke-width="1.2" stroke-linejoin="round" points="470.7,726.5 470.7,724.5 470.8,722.5 470.8,720.5 470.9,718.6 470.9,716.6 470.9,714.6 471.0,712.6 471.0,710.6 471.1,708.6 471.1,706.6 471.2,704.6 471.2,702.6 471.3,700.7 471.3,698.7 471.3,696.7 471.4,694.7 471.4,692.7 471.5,690.7 471.5,688.7 471.6,686.7 471.6,684.7 471.7,682.7 471.7,680.7 471.8,678.7 471.8,676.7 471.9,674.7 471.9,672.7 472.0,670.7 472.0,668.7 472.1,666.7 472.1,664.7 472.2,662.7 472.2,660.7 472.3,658.7 472.4,656.7 472.4,654.7 472.5,652.7 472.5,650.7 472.6,648.7 472.6,646.7 472.7,644.7 472.8,642.7 472.8,640.7 472.9,638.7 472.9,636.7 473.0,634.7 473.1,632.7 473.1,630.7 473.2,628.7 473.3,626.7 473.3,624.7 473.4,622.7 473.5,620.7 473.5,618.7 473.6,616.7 473.7,614.7 473.8,612.7 473.8,610.7 473.9,608.7 474.0,606.7 474.0,604.7 474.1,602.7 474.2,600.7 474.3,598.7 474.4,596.7 474.4,594.7 474.5,592.6 474.6,590.6 474.7,588.6 474.8,586.6 474.8,584.6 474.9,582.6 475.0,580.6 475.1,578.6 475.2,576.6 475.3,574.6 475.4,572.6 475.5,570.6 475.6,568.6 475.6,566.6 475.7,564.6 475.8,562.6 475.9,560.6 476.0,558.6 476.1,556.6 476.2,554.6 476.3,552.6 476.4,550.6 476.5,548.6 476.6,546.6 476.7,544.5 476.8,542.5 476.9,540.5 477.1,538.5 477.2,536.5 477.3,534.5 477.4,532.5 477.5,530.5 477.6,528.5 477.7,526.5 477.8,524.5 478.0,522.5 478.1,520.5 478.2,518.5 478.3,516.5 478.4,514.5 478.6,512.5 478.7,510.5 478.8,508.6 479.0,506.6 479.1,504.6 479.2,502.6 479.3,500.6 479.5,498.6 479.6,496.6 479.7,494.6 479.9,492.6 480.0,490.6 480.2,488.6 480.3,486.6 480.5,484.6 480.6,482.6 480.7,480.6 480.9,478.6 481.0,476.7 481.2,474.7 481.3,472.7 481.5,470.7 481.6,468.7 481.8,466.7 482.0,464.7 482.1,462.7 482.3,460.7 482.4,458.8 482.6,456.8 482.8,454.8 483.0,452.8 483.1,450.8 483.3,448.8 483.5,446.9 483.7,444.9 483.9,442.9 484.1,440.9 484.3,438.9 484.5,437.0 484.8,435.0 485.0,433.0 485.2,431.0 485.5,429.1 485.7,427.1 486.0,425.1 486.3,423.1 486.6,421.2 486.9,419.2 487.2,417.2 487.5,415.3 487.8,413.3 488.2,411.3 488.5,409.4 488.9,407.4 489.3,405.4 489.7,403.5 490.1,401.5 490.5,399.5 490.9,397.6 491.4,395.6 491.9,393.7 492.3,391.7 492.8,389.8 493.3,387.8 493.8,385.9 494.3,383.9 494.9,382.0 495.4,380.1 496.0,378.1 496.6,376.2 497.2,374.3 497.8,372.4 498.4,370.5 499.0,368.5 499.6,366.6 500.3,364.7 500.9,362.8 501.6,360.9 502.2,359.1 502.9,357.2 503.5,355.3 504.2,353.4 504.9,351.6 505.6,349.7 506.3,347.8 507.0,346.0 507.7,344.1 508.4,342.3 509.2,340.4 509.9,338.6 510.7,336.8 511.4,335.0 512.2,333.1 513.0,331.3 513.8,329.5 514.6,327.7 515.4,325.9 516.2,324.1 517.0,322.3 517.8,320.5 518.7,318.7 519.6,316.9 520.4,315.1 521.3,313.4 522.2,311.6 523.1,309.8 524.1,308.0 525.0,306.3 526.0,304.5 526.9,302.8 527.9,301.0 528.9,299.3 529.9,297.5 531.0,295.8 532.0,294.2 533.0,292.6 534.1,291.0 535.2,289.5 536.3,288.1 537.4,286.6 538.5,285.1 539.6,283.6 540.8,282.1 541.9,280.5 543.1,279.0 544.3,277.5 545.5,275.9 546.7,274.4 547.9,272.8 549.1,271.3 550.4,269.7 551.6,268.2 552.9,266.7 554.2,265.1 555.5,263.6 556.8,262.1 558.1,260.6 559.4,259.1 560.7,257.6 562.1,256.1 563.4,254.6 564.8,253.2 566.1,251.7 567.5,250.3 568.9,248.8 570.3,247.4 571.7,246.0 573.1,244.6 574.6,243.2 576.0,241.8 577.4,240.4 578.9,239.0 580.4,237.7 581.8,236.3 583.3,235.0 584.8,233.7 586.3,232.4 587.8,231.1 589.3,229.8 590.8,228.5 592.4,227.2 593.9,226.0 595.4,224.7 597.0,223.4 598.6,222.2 600.1,221.0 601.7,219.8 603.3,218.5 604.9,217.3 606.4,216.1 608.0,214.9 609.6,213.8 611.3,212.6 612.9,211.4 614.5,210.3 616.1,209.1 617.8,208.0 619.4,206.8 621.0,205.7 622.7,204.5 624.3,203.4 626.0,202.3 627.7,201.2 629.3,200.1 631.0,199.0 632.7,197.9 634.4,196.8 636.1,195.7 637.7,194.7 639.4,193.6 641.1,192.6 642.8,191.5 644.6,190.5 646.3,189.4 648.0,188.4 649.7,187.4 651.4,186.3 653.2,185.3 654.9,184.3 656.6,183.3 658.4,182.3 660.1,181.4 661.9,180.4 663.6,179.4 665.4,178.5 667.2,177.5 668.9,176.6 670.7,175.6 672.5,174.7 674.3,173.8 676.0,172.9 677.8,172.0 679.6,171.1 681.4,170.2 683.2,169.3 685.0,168.4 686.8,167.6 688.6,166.7 690.4,165.8 692.3,165.0 694.1,164.2 695.9,163.3 697.7,162.5 699.5,161.7 701.4,160.9 703.2,160.1 705.0,159.4 706.9,158.6 708.7,157.8 710.6,157.1 712.4,156.3 714.3,155.6 716.1,154.8 718.0,154.1 719.8,153.4 721.7,152.7 723.6,152.0 723.9,151.9"/>
<rect x="166.8" y="43.85" width="279.2" height="36.65" fill="#fff" stroke="#000" stroke-width="2.25"/>
<rect x="458.7" y="43.85" width="278.5" height="36.65" fill="#fff" stroke="#000" stroke-width="2.25"/>
<text class="s" transform="translate(305.20,70.60) scale(0.89,1)" text-anchor="middle">GAM</text>
<text class="s" transform="translate(596.70,70.60) scale(0.93,1)" text-anchor="middle">UGGEN</text>
<g stroke="#000" stroke-width="1.25" fill="none">
<line x1="166" y1="81.5" x2="166" y2="805"/>
<line x1="165.4" y1="804.4" x2="446" y2="804.4"/>
<line x1="457.5" y1="804.4" x2="737" y2="804.4"/>
</g>
<g stroke="#333" stroke-width="1.2" fill="none">
<line x1="160.2" y1="105.40" x2="165.4" y2="105.40"/>
<line x1="160.2" y1="269.60" x2="165.4" y2="269.60"/>
<line x1="160.2" y1="433.95" x2="165.4" y2="433.95"/>
<line x1="160.2" y1="599.60" x2="165.4" y2="599.60"/>
<line x1="160.2" y1="763.95" x2="165.4" y2="763.95"/>
<line x1="175.9" y1="805" x2="175.9" y2="809"/>
<line x1="245.6" y1="805" x2="245.6" y2="809"/>
<line x1="315.2" y1="805" x2="315.2" y2="809"/>
<line x1="384.9" y1="805" x2="384.9" y2="809"/>
<line x1="466.8" y1="805" x2="466.8" y2="809"/>
<line x1="536.5" y1="805" x2="536.5" y2="809"/>
<line x1="606.1" y1="805" x2="606.1" y2="809"/>
<line x1="675.8" y1="805" x2="675.8" y2="809"/>
</g>
<text class="t" transform="translate(154.90,113.90) scale(0.95,1)" text-anchor="end">1.0</text>
<text class="t" transform="translate(154.90,278.10) scale(0.95,1)" text-anchor="end">0.8</text>
<text class="t" transform="translate(154.90,442.30) scale(0.95,1)" text-anchor="end">0.6</text>
<text class="t" transform="translate(154.90,608.10) scale(0.95,1)" text-anchor="end">0.4</text>
<text class="t" transform="translate(154.90,772.30) scale(0.95,1)" text-anchor="end">0.2</text>
<text class="t" transform="translate(175.40,830.40) scale(0.99,1)" text-anchor="middle">0</text>
<text class="t" transform="translate(245.05,830.40) scale(0.99,1)" text-anchor="middle">20</text>
<text class="t" transform="translate(314.70,830.40) scale(0.99,1)" text-anchor="middle">40</text>
<text class="t" transform="translate(384.35,830.40) scale(0.99,1)" text-anchor="middle">60</text>
<text class="t" transform="translate(466.30,830.40) scale(0.99,1)" text-anchor="middle">0</text>
<text class="t" transform="translate(535.95,830.40) scale(0.99,1)" text-anchor="middle">20</text>
<text class="t" transform="translate(605.60,830.40) scale(0.99,1)" text-anchor="middle">40</text>
<text class="t" transform="translate(675.25,830.40) scale(0.99,1)" text-anchor="middle">60</text>
<text class="h" transform="translate(450.40,856.40) scale(1.019,1)" text-anchor="middle">Follow-Up</text>
<text class="h" transform="translate(120.90,443.20) rotate(-90) scale(1.013,1)" text-anchor="middle">Proportion Reconvicted</text>
<text class="h" transform="translate(655.00,467.70) scale(1.037,1)">Population</text>
<line x1="659.0" y1="500.6" x2="688.8" y2="500.6" stroke="#F8766D" stroke-width="1.2"/>
<text class="l" transform="translate(704.20,508.70) scale(1.01,1)">Black</text>
<line x1="659.0" y1="537.0" x2="688.8" y2="537.0" stroke="#A3A500" stroke-width="1.2"/>
<text class="l" transform="translate(704.20,544.60) scale(1.01,1)">Female</text>
<line x1="659.0" y1="574.5" x2="688.8" y2="574.5" stroke="#00BF7D" stroke-width="1.2"/>
<text class="l" transform="translate(704.20,581.90) scale(1.01,1)">Hispanic</text>
<line x1="659.0" y1="611.9" x2="688.8" y2="611.9" stroke="#00B0F6" stroke-width="1.2"/>
<text class="l" transform="translate(704.20,619.50) scale(1.01,1)">Male</text>
<line x1="659.0" y1="649.4" x2="688.8" y2="649.4" stroke="#E76BF3" stroke-width="1.2"/>
<text class="l" transform="translate(704.20,657.00) scale(1.01,1)">Overall</text>
</svg></body></html>
